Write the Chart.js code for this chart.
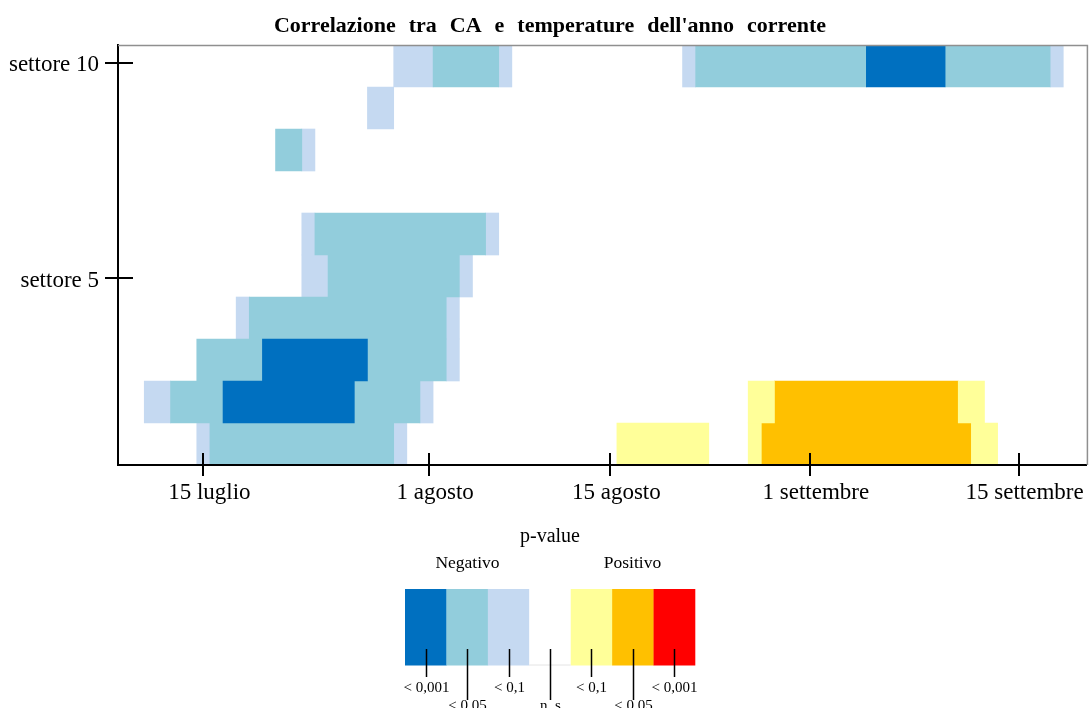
<!DOCTYPE html>
<html>
<head>
<meta charset="utf-8">
<title>Correlazione tra CA e temperature dell'anno corrente</title>
<script src="https://cdn.jsdelivr.net/npm/chart.js@4.4.1/dist/chart.umd.min.js"></script>
<style>
  html, body { margin: 0; padding: 0; background: #fff; overflow: hidden; }
  canvas { display: block; }
</style>
</head>
<body>
<canvas id="chart" width="1092" height="708"></canvas>
<script>
// Sectors on the vertical axis (1 = bottom row)
const sectorNumbers = [1, 2, 3, 4, 5, 6, 7, 8, 9, 10];

// p-value classes: sign of the correlation and significance level
const pClassNames  = ['Negativo < 0,001', 'Negativo < 0,05', 'Negativo < 0,1',
                      'Positivo < 0,1', 'Positivo < 0,05', 'Positivo < 0,001'];
const pClassColors = ['#0070C0', '#92CDDC', '#C5D9F1', '#FFFF99', '#FFC000', '#FF0000'];

// Significant windows per sector: [first day, last day, p-value class index]
const settore1  = [[6, 6, 2], [7, 20, 1], [21, 21, 2], [38, 44, 3], [48, 48, 3], [49, 64, 4], [65, 66, 3]];
const settore2  = [[2, 3, 2], [4, 7, 1], [8, 17, 0], [18, 22, 1], [23, 23, 2], [48, 49, 3], [50, 63, 4], [64, 65, 3]];
const settore3  = [[6, 10, 1], [11, 18, 0], [19, 24, 1], [25, 25, 2]];
const settore4  = [[9, 9, 2], [10, 24, 1], [25, 25, 2]];
const settore5  = [[14, 15, 2], [16, 25, 1], [26, 26, 2]];
const settore6  = [[14, 14, 2], [15, 27, 1], [28, 28, 2]];
const settore7  = [];
const settore8  = [[12, 13, 1], [14, 14, 2]];
const settore9  = [[19, 20, 2]];
const settore10 = [[21, 23, 2], [24, 28, 1], [29, 29, 2], [43, 43, 2], [44, 56, 1], [57, 62, 0], [63, 70, 1], [71, 71, 2]];
const sectorWindows = [settore1, settore2, settore3, settore4, settore5,
                       settore6, settore7, settore8, settore9, settore10];

// Axis ticks (day index along x, sector position along y)
const xTickPositions = [6.5, 23.7, 37.5, 52.7, 68.6];
const xTickLabels    = ['15 luglio', '1 agosto', '15 agosto', '1 settembre', '15 settembre'];
const yTickPositions = [4.95, 10.08];
const yTickLabels    = ['settore 5', 'settore 10'];

// Legend
const legendColors = ['#0070C0', '#92CDDC', '#C5D9F1', '#FFFFFF', '#FFFF99', '#FFC000', '#FF0000'];
const legendLabels = ['< 0,001', '< 0,05', '< 0,1', 'n. s', '< 0,1', '< 0,05', '< 0,001'];

const SERIF = '"Liberation Serif", "Times New Roman", serif';

// One floating-bar dataset per p-value class
const datasets = pClassNames.map((name, c) => ({
  label: name,
  backgroundColor: pClassColors[c],
  borderWidth: 0,
  data: sectorWindows.flatMap((runs, i) =>
    runs.filter(r => r[2] === c).map(r => ({ x: [r[0], r[1] + 1], y: sectorNumbers[i] })))
}));

// Frame, crossing tick marks, title and p-value legend
const decorations = {
  id: 'decorations',
  afterDraw(chart) {
    const { ctx, chartArea: a, scales } = chart;
    ctx.save();

    // light frame on top and right
    ctx.strokeStyle = '#8f8f8f';
    ctx.lineWidth = 1.5;
    ctx.beginPath();
    ctx.moveTo(a.left, a.top + 0.5);
    ctx.lineTo(a.right + 0.5, a.top + 0.5);
    ctx.lineTo(a.right + 0.5, a.bottom);
    ctx.stroke();

    // tick marks crossing the axes
    ctx.strokeStyle = '#000';
    ctx.lineWidth = 2;
    ctx.beginPath();
    scales.x.ticks.forEach(t => {
      const px = Math.round(scales.x.getPixelForValue(t.value));
      ctx.moveTo(px, a.bottom - 12);
      ctx.lineTo(px, a.bottom + 11);
    });
    scales.y.ticks.forEach(t => {
      const py = Math.round(scales.y.getPixelForValue(t.value));
      ctx.moveTo(a.left - 13, py);
      ctx.lineTo(a.left + 15, py);
    });
    ctx.stroke();

    // title
    ctx.fillStyle = '#000';
    ctx.textAlign = 'center';
    ctx.textBaseline = 'alphabetic';
    ctx.font = 'bold 22px ' + SERIF;
    if ('wordSpacing' in ctx) ctx.wordSpacing = '7.5px';
    ctx.fillText("Correlazione tra CA e temperature dell'anno corrente", 550, 32);
    if ('wordSpacing' in ctx) ctx.wordSpacing = '0px';

    // legend headings
    ctx.font = '20px ' + SERIF;
    ctx.fillText('p-value', 550, 541.5);
    ctx.font = '17.5px ' + SERIF;
    ctx.fillText('Negativo', 467.5, 568);
    ctx.fillText('Positivo', 632.5, 568);

    // legend colour bar
    const lx = 405, lw = 290, ly = 589, lh = 76.5;
    const bw = lw / legendColors.length;
    legendColors.forEach((col, i) => {
      ctx.fillStyle = col;
      ctx.fillRect(lx + i * bw, ly, bw + 0.3, lh);
    });
    ctx.strokeStyle = '#e4e4e4';
    ctx.lineWidth = 1;
    ctx.beginPath();
    ctx.moveTo(lx + 3 * bw, ly + lh - 0.5);
    ctx.lineTo(lx + 4 * bw, ly + lh - 0.5);
    ctx.stroke();

    // legend pointers and labels
    ctx.strokeStyle = '#000';
    ctx.lineWidth = 1.5;
    ctx.fillStyle = '#000';
    ctx.font = '15px ' + SERIF;
    legendLabels.forEach((lab, i) => {
      const cx = Math.round(lx + (i + 0.5) * bw) + 0.5;
      const low = i % 2 === 1;
      ctx.beginPath();
      ctx.moveTo(cx, 649);
      ctx.lineTo(cx, low ? 700 : 677);
      ctx.stroke();
      ctx.fillText(lab, cx, low ? 709.5 : 692);
    });

    ctx.restore();
  }
};

new Chart(document.getElementById('chart'), {
  type: 'bar',
  data: { datasets },
  options: {
    indexAxis: 'y',
    responsive: false,
    animation: false,
    events: [],
    layout: { padding: { left: 0, top: 45, right: 4, bottom: 0 } },
    datasets: {
      bar: { barPercentage: 1, categoryPercentage: 1, grouped: false, borderWidth: 0 }
    },
    plugins: {
      legend: { display: false },
      tooltip: { enabled: false },
      title: { display: false }
    },
    scales: {
      x: {
        type: 'linear',
        position: 'bottom',
        min: 0,
        max: 73.8,
        offset: false,
        grid: { display: false, drawTicks: false },
        border: { display: true, color: '#000', width: 2, z: 1 },
        ticks: {
          autoSkip: false,
          maxRotation: 0,
          padding: 14,
          labelOffset: 6,
          color: '#000',
          font: { family: SERIF, size: 23 },
          callback: (v, i) => xTickLabels[i]
        },
        afterBuildTicks: s => { s.ticks = xTickPositions.map(v => ({ value: v })); },
        afterFit: s => { s.height = 243; }
      },
      y: {
        type: 'linear',
        position: 'left',
        min: 0.5,
        max: 10.5,
        offset: false,
        grid: { display: false, drawTicks: false },
        border: { display: true, color: '#000', width: 2, z: 1 },
        ticks: {
          autoSkip: false,
          padding: 19,
          labelOffset: 2.5,
          color: '#000',
          font: { family: SERIF, size: 23 },
          callback: (v, i) => yTickLabels[i]
        },
        afterBuildTicks: s => { s.ticks = yTickPositions.map(v => ({ value: v })); },
        afterFit: s => { s.width = 118; }
      }
    }
  },
  plugins: [decorations]
});
</script>
</body>
</html>
